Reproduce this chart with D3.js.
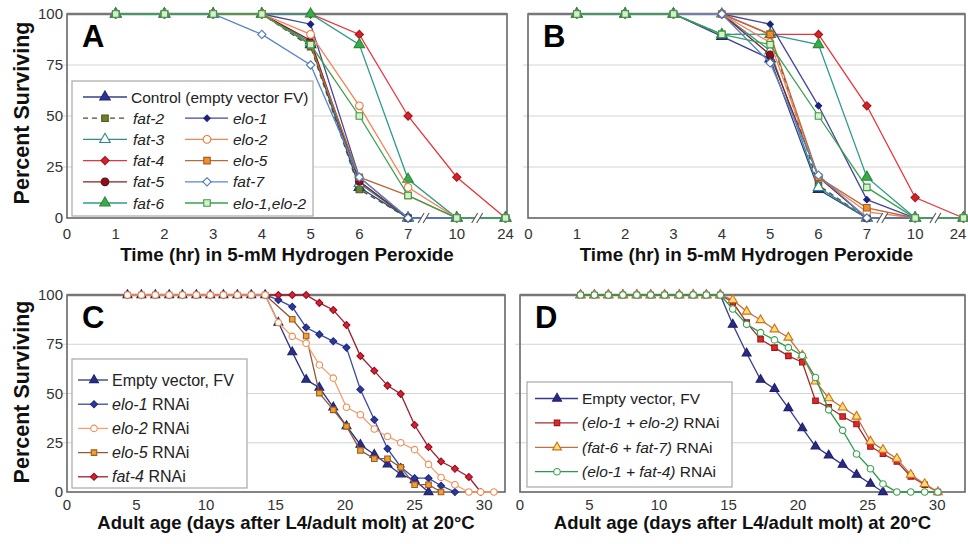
<!DOCTYPE html>
<html><head><meta charset="utf-8">
<script src="https://cdn.jsdelivr.net/npm/d3@7"></script>
<style>body{margin:0;background:#fff}svg{display:block;font-family:"Liberation Sans",Arial,sans-serif}</style>
</head><body><svg id="c" width="968" height="544"></svg>
<script>
// ---------- DATA ----------
const timeCats = ["0","1","2","3","4","5","6","7","10","24"];
const timePts  = ["1","2","3","4","5","6","7","10","24"];
const pctTicks = [0,25,50,75,100];
const ageTicks = [0,5,10,15,20,25,30];

// Panel A (percent surviving at timePts)
const aControl  = [100,100,100,100,85,15,0,0,0];
const aFat2     = [100,100,100,100,84,14,0,0,0];
const aFat3     = [100,100,100,100,86,17,0,0,0];
const aFat4     = [100,100,100,100,100,90,50,20,0];
const aFat5     = [100,100,100,100,87,18,0,0,0];
const aFat6     = [100,100,100,100,100,85,19,0,0];
const aElo1     = [100,100,100,100,95,20,0,0,0];
const aElo2     = [100,100,100,100,90,55,15,0,0];
const aElo5     = [100,100,100,100,85,20,11,0,0];
const aFat7     = [100,100,100,90,75,20,0,0,0];
const aElo1Elo2 = [100,100,100,100,85,50,11,0,0];

// Panel B
const bControl  = [100,100,100,89,78,14,0,0,0];
const bFat2     = [100,100,100,90,90,16,0,0,0];
const bFat3     = [100,100,100,100,82,15,0,0,0];
const bFat4     = [100,100,100,100,90,90,55,10,0];
const bFat5     = [100,100,100,100,80,20,0,0,0];
const bFat6     = [100,100,100,90,90,85,20,0,0];
const bElo1     = [100,100,100,100,95,55,9,0,0];
const bElo2     = [100,100,100,100,86,20,3,0,0];
const bElo5     = [100,100,100,100,90,20,5,0,0];
const bFat7     = [100,100,100,100,76,21,0,0,0];
const bElo1Elo2 = [100,100,100,90,85,50,15,0,0];

// Panel C (days, percent)
const cEarlyDays = [4.35,5.35,6.35,7.35,8.3,9.3,10.3,11.25,12.25,13.25,14.25];
const cEarlyPct  = [100,100,100,100,100,100,100,100,100,100,100];
const cEmptyDays = [15.2,16.2,17.2,18.15,19.15,20.1,21.1,22.1,23.05,24.0,25.0,26.0];
const cEmptyPct  = [86,71,57,53,43,33.5,24,19,14,9,6,0];
const cElo1Days  = [15.2,16.2,17.2,18.15,19.15,20.1,21.1,22.1,23.05,24.0,25.0,26.0,26.9,27.9];
const cElo1Pct   = [97.5,94,83.5,80,76.5,73.3,52,36.7,22,12.7,7,7,3.2,0];
const cElo2Days  = [15.2,16.2,17.2,18.15,19.15,20.1,21.1,22.1,23.05,24.0,25.0,26.0,26.9,27.9,28.9,29.75,30.7];
const cElo2Pct   = [86,79,75.5,64.5,57.8,43,39.2,32,28.2,25,21.5,14,7.4,3.7,0,0,0];
const cElo5Days  = [16.2,17.2,18.15,19.15,20.1,21.1,22.1,23.05,24.0,25.0,26.0,26.9];
const cElo5Pct   = [87.7,79.2,50.2,41.7,33.3,21.1,16.9,16.9,12.5,3.7,3.7,0];
const cFat4Days  = [15.2,16.2,17.2,18.15,19.15,20.1,21.1,22.1,23.05,24.0,25.0,26.0,26.9,27.9,28.9,29.75];
const cFat4Pct   = [100,100,100,96,92.4,84.8,69,61.5,54,49.8,34,22.8,15.5,11.8,7.6,0];

// Panel D
const dEarlyDays = [4.35,5.35,6.35,7.4,8.4,9.4,10.4,11.45,12.45,13.4,14.4];
const dEarlyPct  = [100,100,100,100,100,100,100,100,100,100,100];
const dEmptyDays = [15.3,16.3,17.3,18.3,19.3,20.3,21.25,22.2,23.2,24.2,25.2,26.1];
const dEmptyPct  = [85,70.4,57,52.4,42.6,32.4,23.1,18.6,13.9,8.8,4.2,0];
const dLateDays  = [15.3,16.3,17.3,18.3,19.3,20.3,21.25,22.2,23.2,24.2,25.2,26.1,27.1,28.1,29.1,30.05];
const dE1E2Pct   = [96.3,86,77.5,73.3,69.1,65.9,46.3,43,38.3,34.5,23.1,19.4,15.5,7.9,3.7,0];
const dF6F7Pct   = [97.5,91.6,87.3,82.6,78.4,69.3,56.1,47.6,42.9,38.3,25.7,21.5,16.9,8.8,4.1,0];
const dE1F4Pct   = [92.9,85.1,80.9,77.2,73.3,69.3,58.1,41.7,31.3,19.3,11.8,4.1,0,0,0,0];

// ---------- STYLES ----------
const ST = {
  control:{stroke:"#34408f", sym:"tri", fill:"#2a3590", mstroke:"#1e2870"},
  fat2:{stroke:"#4a5228", dash:"5,4", sym:"sq", fill:"#6e822c", mstroke:"#4c5a1e"},
  fat3:{stroke:"#2f8c8c", sym:"tri", fill:"#fff", mstroke:"#2a8a8a"},
  fat4:{stroke:"#e8343c", sym:"dia", fill:"#d8202c", mstroke:"#a01818"},
  fat5:{stroke:"#8b1c1c", sym:"cir", fill:"#8b1020", mstroke:"#6a0c12"},
  fat6:{stroke:"#2e9a8a", sym:"tri", fill:"#3aaa4a", mstroke:"#2a8a3a"},
  elo1:{stroke:"#45489a", sym:"dia", fill:"#1c237a", mstroke:"#1c237a", small:true},
  elo2:{stroke:"#f4845a", sym:"cir", fill:"#fff", mstroke:"#f07838"},
  elo5:{stroke:"#b86a3a", sym:"sq", fill:"#f0902a", mstroke:"#a85a20"},
  fat7:{stroke:"#5a86c8", sym:"dia", fill:"#fff", mstroke:"#4a78c0"},
  elo12:{stroke:"#3aa050", sym:"sq", fill:"#d8efc8", mstroke:"#3a9a4a"},
  cEmpty:{stroke:"#2e3380", sym:"tri", fill:"#2a2f85", mstroke:"#1e2470"},
  cElo1:{stroke:"#3a4aa0", sym:"dia", fill:"#2b3a9a", mstroke:"#1e2a80"},
  cElo2:{stroke:"#f4a070", sym:"cir", fill:"#fff", mstroke:"#f08a50"},
  cElo5:{stroke:"#8a5a3a", sym:"sq", fill:"#f0a030", mstroke:"#a05a20"},
  cFat4:{stroke:"#9a2030", sym:"dia", fill:"#d82030", mstroke:"#901020"},
  dEmpty:{stroke:"#3a3a8a", sym:"tri", fill:"#2a2a80", mstroke:"#1e1e70"},
  dE1E2:{stroke:"#a03030", sym:"sq", fill:"#e02828", mstroke:"#a01818"},
  dF6F7:{stroke:"#c07040", sym:"tri", fill:"#ffe070", mstroke:"#d07020"},
  dE1F4:{stroke:"#2a9a4a", sym:"cir", fill:"#fff", mstroke:"#3aa050"}
};

const svg = d3.select("#c");

function marker(g, st, x, y, big) {
  const k = big ? 1 : 0.72;
  let type, size, rot = 0;
  if (st.sym === "tri") { type = d3.symbolTriangle; size = 48*k; }
  else if (st.sym === "sq") { type = d3.symbolSquare; size = 42*k; }
  else if (st.sym === "cir") { type = d3.symbolCircle; size = 46*k; }
  else { type = d3.symbolSquare; size = (st.small ? 20 : 34)*k; rot = 45; }
  g.append("path").attr("d", d3.symbol().type(type).size(size)())
    .attr("transform", `translate(${x},${y}) rotate(${rot})`)
    .attr("fill", st.fill).attr("stroke", st.mstroke).attr("stroke-width", 1.1);
}

function frame(box, y, opts) {
  const g = svg.append("g");
  g.append("rect").attr("x", box.x0).attr("y", box.y0).attr("width", box.x1-box.x0)
   .attr("height", box.y1-box.y0).attr("fill", "#fff");
  [25,50,75].forEach(v => g.append("line").attr("x1", box.x0-5).attr("x2", box.x1)
    .attr("y1", y(v)).attr("y2", y(v)).attr("stroke", "#d4d4d4").attr("stroke-width", 1));
  g.append("rect").attr("x", box.x0).attr("y", box.y0).attr("width", box.x1-box.x0)
   .attr("height", box.y1-box.y0).attr("fill", "none").attr("stroke", "#666").attr("stroke-width", 1.6);
  g.append("line").attr("x1", box.x0).attr("x2", box.x1).attr("y1", box.y0).attr("y2", box.y0)
   .attr("stroke", "#777").attr("stroke-width", 2.4);
  if (opts.yLabels) {
    pctTicks.forEach(v => g.append("text").attr("x", box.x0-4).attr("y", y(v)+5)
      .attr("text-anchor", "end").attr("font-size", 15).attr("fill", "#333").text(v));
    g.append("text").attr("transform", `translate(29,${opts.yTitleY}) rotate(-90)`)
      .attr("text-anchor", "middle").attr("font-size", 21.5).attr("font-weight", "bold")
      .attr("fill", "#111").text("Percent Surviving");
  }
  g.append("text").attr("x", box.x0+15).attr("y", box.y0+33).attr("font-size", 31)
   .attr("font-weight", "bold").attr("fill", "#000").text(opts.letter);
  g.append("text").attr("x", (box.x0+box.x1)/2).attr("y", opts.xTitleY).attr("text-anchor", "middle")
   .attr("font-size", opts.xTitleSize).attr("font-weight", "bold").attr("fill", "#111").text(opts.xTitle);
  return g;
}

function drawSeries(g, xs, ys, x, y, st, big) {
  const pts = xs.map((d,i) => [x(d), y(ys[i])]);
  g.append("path").attr("d", d3.line()(pts)).attr("fill", "none").attr("stroke", st.stroke)
   .attr("stroke-width", 1.3).attr("stroke-dasharray", st.dash || null);
  pts.forEach(p => marker(g, st, p[0], p[1], big));
}

function brk(g, cx, cy) {
  g.append("path").attr("d", `M${cx-7},${cy+5} L${cx-1},${cy-5} L${cx+4},${cy-5} L${cx-2},${cy+5} Z`)
   .attr("fill", "#fff").attr("stroke", "none");
  g.append("path").attr("d", `M${cx-7},${cy+5} L${cx-1},${cy-5} M${cx-2},${cy+5} L${cx+4},${cy-5}`)
   .attr("stroke", "#555").attr("stroke-width", 1.1).attr("fill", "none");
}

function legendItem(g, st, lx0, lx1, mx, tx, ty, parts, fs, big) {
  g.append("line").attr("x1", lx0).attr("x2", lx1).attr("y1", ty).attr("y2", ty)
   .attr("stroke", st.stroke).attr("stroke-width", 1.3).attr("stroke-dasharray", st.dash || null);
  marker(g, st, mx, ty, big);
  const t = g.append("text").attr("x", tx).attr("y", ty+5.5).attr("font-size", fs).attr("fill", "#222");
  parts.forEach(p => t.append("tspan").attr("font-style", p[1] ? "italic" : "normal").text(p[0]));
}

// ---------- PANELS A & B ----------
function timePanel(box, letter, data, yLabels, legend) {
  const x = d3.scalePoint().domain(timeCats).range([box.x0 + (box.pad||0), box.x1 - 1.5]);
  const y = d3.scaleLinear().domain([0,100]).range([box.y1, box.y0]);
  const g = frame(box, y, {letter, yLabels, yTitleY: 113, xTitleY: 260.5, xTitleSize: 18.8,
    xTitle: "Time (hr) in 5-mM Hydrogen Peroxide"});
  timeCats.forEach(c => g.append("text").attr("x", Math.min(x(c), 958)).attr("y", 239)
    .attr("text-anchor", "middle").attr("font-size", 15).attr("fill", "#333").text(c));
  const step = x.step();
  data.forEach(d => drawSeries(g, timePts, d.v, x, y, ST[d.k], true));
  brk(g, x("7") + step*0.35, box.y1);
  brk(g, x("10") + step*0.45, box.y1);
  if (legend) {
    const lg = svg.append("g");
    lg.append("rect").attr("x", 72).attr("y", 81).attr("width", 241).attr("height", 135)
      .attr("fill", "#fff").attr("stroke", "#a8a8a8").attr("stroke-width", 1.2);
    const rowY = i => 97 + i*21.2;
    legendItem(lg, ST.control, 83, 127, 105, 131, rowY(0), [["Control (empty vector FV)", false]], 15.5, true);
    const c1 = [["fat2","fat-2"],["fat3","fat-3"],["fat4","fat-4"],["fat5","fat-5"],["fat6","fat-6"]];
    const c2 = [["elo1","elo-1"],["elo2","elo-2"],["elo5","elo-5"],["fat7","fat-7"],["elo12","elo-1,elo-2"]];
    c1.forEach((d,i) => legendItem(lg, ST[d[0]], 83, 127, 105, 133, rowY(i+1), [[d[1], true]], 15.5, true));
    c2.forEach((d,i) => legendItem(lg, ST[d[0]], 185, 228, 207, 233, rowY(i+1), [[d[1], true]], 15.5, true));
  }
}

timePanel({x0:67, x1:507, y0:14, y1:218}, "A", [
  {k:"control", v:aControl}, {k:"fat2", v:aFat2}, {k:"fat3", v:aFat3}, {k:"fat4", v:aFat4},
  {k:"fat5", v:aFat5}, {k:"fat6", v:aFat6}, {k:"elo1", v:aElo1}, {k:"elo2", v:aElo2},
  {k:"elo5", v:aElo5}, {k:"fat7", v:aFat7}, {k:"elo12", v:aElo1Elo2}], true, true);

timePanel({x0:528, x1:965, y0:14, y1:218, pad:0.5}, "B", [
  {k:"control", v:bControl}, {k:"fat2", v:bFat2}, {k:"fat3", v:bFat3}, {k:"fat4", v:bFat4},
  {k:"fat5", v:bFat5}, {k:"fat6", v:bFat6}, {k:"elo1", v:bElo1}, {k:"elo2", v:bElo2},
  {k:"elo5", v:bElo5}, {k:"fat7", v:bFat7}, {k:"elo12", v:bElo1Elo2}], false, false);

// ---------- PANELS C & D ----------
function agePanel(box, xmax, letter, series, yLabels) {
  const x = d3.scaleLinear().domain([0, xmax]).range([box.x0, box.x1]);
  const y = d3.scaleLinear().domain([0,100]).range([box.y1, box.y0]);
  const g = frame(box, y, {letter, yLabels, yTitleY: 392, xTitleY: 529, xTitleSize: 18.5,
    xTitle: "Adult age (days after L4/adult molt) at 20°C"});
  ageTicks.forEach(v => g.append("text").attr("x", x(v)).attr("y", 510).attr("text-anchor", "middle")
    .attr("font-size", 15).attr("fill", "#333").text(v));
  series.forEach(s => drawSeries(g, s.d, s.p, x, y, ST[s.k], false));
}

agePanel({x0:67, x1:505, y0:295, y1:492}, 31.5, "C", [
  {k:"cEmpty", d:[...cEarlyDays, ...cEmptyDays], p:[...cEarlyPct, ...cEmptyPct]},
  {k:"cElo1", d:[...cEarlyDays, ...cElo1Days], p:[...cEarlyPct, ...cElo1Pct]},
  {k:"cElo5", d:[...cEarlyDays, ...cElo5Days], p:[...cEarlyPct, ...cElo5Pct]},
  {k:"cFat4", d:[...cEarlyDays, ...cFat4Days], p:[...cEarlyPct, ...cFat4Pct]},
  {k:"cElo2", d:[...cEarlyDays, ...cElo2Days], p:[...cEarlyPct, ...cElo2Pct]}], true);

agePanel({x0:520, x1:965, y0:295, y1:492}, 32, "D", [
  {k:"dEmpty", d:[...dEarlyDays, ...dEmptyDays], p:[...dEarlyPct, ...dEmptyPct]},
  {k:"dE1E2", d:[...dEarlyDays, ...dLateDays], p:[...dEarlyPct, ...dE1E2Pct]},
  {k:"dF6F7", d:[...dEarlyDays, ...dLateDays], p:[...dEarlyPct, ...dF6F7Pct]},
  {k:"dE1F4", d:[...dEarlyDays, ...dLateDays], p:[...dEarlyPct, ...dE1F4Pct]}], false);

// Legends C & D
(function(){
  const lc = svg.append("g");
  lc.append("rect").attr("x", 72).attr("y", 359).attr("width", 175).attr("height", 129)
    .attr("fill", "#fff").attr("stroke", "#a8a8a8").attr("stroke-width", 1.2);
  const cy = i => 380 + i*24.2;
  legendItem(lc, ST.cEmpty, 78, 108, 94, 112, cy(0), [["Empty vector, FV", false]], 16, false);
  legendItem(lc, ST.cElo1, 78, 108, 94, 112, cy(1), [["elo-1", true], [" RNAi", false]], 16, false);
  legendItem(lc, ST.cElo2, 78, 108, 94, 112, cy(2), [["elo-2", true], [" RNAi", false]], 16, false);
  legendItem(lc, ST.cElo5, 78, 108, 94, 112, cy(3), [["elo-5", true], [" RNAi", false]], 16, false);
  legendItem(lc, ST.cFat4, 78, 108, 94, 112, cy(4), [["fat-4", true], [" RNAi", false]], 16, false);

  const ld = svg.append("g");
  ld.append("rect").attr("x", 527).attr("y", 382).attr("width", 205).attr("height", 105)
    .attr("fill", "#fff").attr("stroke", "#a8a8a8").attr("stroke-width", 1.2);
  const dy = i => 398.5 + i*24.4;
  legendItem(ld, ST.dEmpty, 535, 578, 557, 582, dy(0), [["Empty vector, FV", false]], 15.5, false);
  legendItem(ld, ST.dE1E2, 535, 578, 557, 582, dy(1), [["(elo-1 + elo-2)", true], [" RNAi", false]], 15.5, false);
  legendItem(ld, ST.dF6F7, 535, 578, 557, 582, dy(2), [["(fat-6 + fat-7)", true], [" RNAi", false]], 15.5, false);
  legendItem(ld, ST.dE1F4, 535, 578, 557, 582, dy(3), [["(elo-1 + fat-4)", true], [" RNAi", false]], 15.5, false);
})();
</script></body></html>
